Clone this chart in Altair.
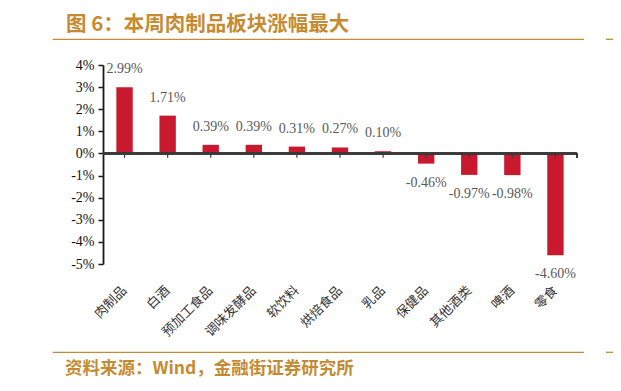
import altair as alt
import pandas as pd

categories = ["肉制品", "白酒", "预加工食品", "调味发酵品", "软饮料", "烘焙食品",
              "乳品", "保健品", "其他酒类", "啤酒", "零食"]
values = [2.99, 1.71, 0.39, 0.39, 0.31, 0.27, 0.10, -0.46, -0.97, -0.98, -4.60]
y_ticks = [-5, -4, -3, -2, -1, 0, 1, 2, 3, 4]
title_text = "图 6：本周肉制品板块涨幅最大"
source_text = "资料来源：Wind，金融街证券研究所"

GOLD = "#C48B32"
BAR = "#C8192E"
W, H = 474, 199

df = pd.DataFrame({"cat": categories, "v": values})

xscale = alt.Scale(paddingInner=0.62, paddingOuter=0.31)
x_axis = alt.Axis(title=None, domain=False, ticks=False, labelAngle=-45,
                  labelAlign="right", labelBaseline="middle", labelPadding=24,
                  labelFont="Noto Sans CJK SC", labelFontSize=13,
                  labelColor="#333333", labelOverlap=False)
yscale = alt.Scale(domain=[-5, 4], nice=False, zero=False)
y_axis = alt.Axis(title=None, values=y_ticks, grid=False,
                  labelExpr="replace(format(datum.value, 'd'), '\u2212', '-') + '%'",
                  labelOverlap=False,
                  domainColor="#1a1a1a", domainWidth=1.8,
                  tickColor="#1a1a1a", tickSize=5, tickWidth=1.5,
                  labelPadding=4, labelFont="Liberation Serif",
                  labelFontSize=14, labelColor="#111111")
xenc = alt.X("cat:N", sort=categories, scale=xscale, axis=x_axis)
yenc = alt.Y("v:Q", scale=yscale, axis=y_axis)

base = alt.Chart(df)

bars = base.mark_bar(color=BAR).encode(x=xenc, y=yenc)

labels = base.transform_calculate(
    lab="replace(format(datum.v, '.2f'), '\u2212', '-') + '%'"
)
pos_text = labels.transform_filter("datum.v >= 0").mark_text(
    dy=-18, baseline="middle", font="Liberation Serif", fontSize=14, color="#595959"
).encode(x=xenc, y=yenc, text="lab:N")
neg_text = labels.transform_filter("datum.v < 0").mark_text(
    dy=19, baseline="middle", font="Liberation Serif", fontSize=14, color="#595959"
).encode(x=xenc, y=yenc, text="lab:N")

zero_line = base.mark_rule(color="#3a3a3a", strokeWidth=1.4).encode(
    y=alt.datum(0, scale=yscale, axis=y_axis), x=alt.value(0), x2=alt.value(W))
cat_ticks = base.mark_rule(color="#3a3a3a", strokeWidth=1.2).encode(
    x=xenc, y=alt.datum(0, scale=yscale, axis=y_axis), y2=alt.datum(-0.2))
end_tick = base.mark_rule(color="#3a3a3a", strokeWidth=1.2).encode(
    x=alt.value(W), y=alt.datum(0, scale=yscale, axis=y_axis), y2=alt.datum(-0.2))

deco = alt.Chart(pd.DataFrame({"a": [0]}))
title_mark = deco.mark_text(
    text=title_text, align="left", baseline="middle", font="Noto Sans CJK SC",
    fontSize=20.5, fontWeight="bold", color=GOLD
).encode(x=alt.value(-37), y=alt.value(-40.5))
source_mark = deco.mark_text(
    text=source_text, align="left", baseline="middle", font="Noto Sans CJK SC",
    fontSize=17.5, fontWeight="bold", color=GOLD
).encode(x=alt.value(-38), y=alt.value(303.5))
line_top = deco.mark_rule(color=GOLD, strokeWidth=1.3).encode(
    x=alt.value(-50.3), x2=alt.value(481), y=alt.value(-25.7))
line_top2 = deco.mark_rule(color=GOLD, strokeWidth=1.3).encode(
    x=alt.value(503), x2=alt.value(520), y=alt.value(-25.7))
line_bot = deco.mark_rule(color=GOLD, strokeWidth=1.3).encode(
    x=alt.value(-50.3), x2=alt.value(481), y=alt.value(287.3))
line_bot2 = deco.mark_rule(color=GOLD, strokeWidth=1.3).encode(
    x=alt.value(503), x2=alt.value(520), y=alt.value(287.3))

chart = alt.layer(
    bars, zero_line, cat_ticks, end_tick, pos_text, neg_text,
    title_mark, source_mark, line_top, line_top2, line_bot, line_bot2
).properties(
    width=W, height=H,
    autosize=alt.AutoSizeParams(type="none"),
    padding={"left": 95, "top": 57, "right": 36, "bottom": 119},
    background="white"
).configure_view(stroke=None).configure_axisY(labelOverlap=False)

chart.save("out.html", embed_options={"renderer": "svg", "actions": False})
